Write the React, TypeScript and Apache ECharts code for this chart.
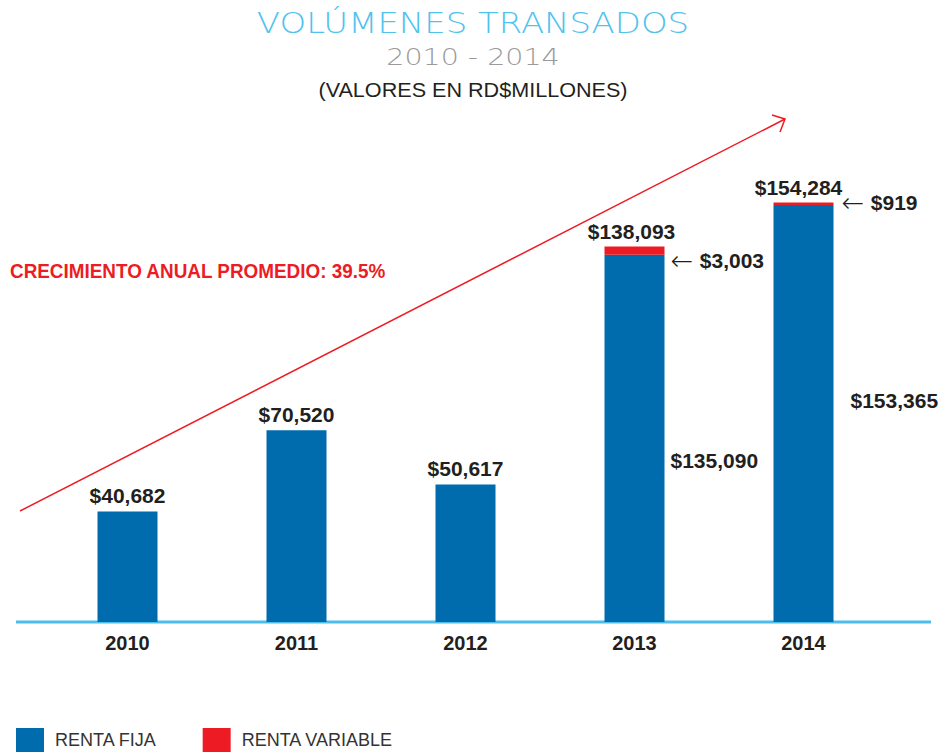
import React, { useEffect, useRef } from "react";
import * as echarts from "echarts";

const years = ["2010", "2011", "2012", "2013", "2014"];
const rentaFija = [40682, 70520, 50617, 135090, 153365];
const rentaVariable: (number | string)[] = ["-", "-", "-", 3003, 919];
const seriesNames = ["RENTA FIJA", "RENTA VARIABLE"];
const titleMain = "VOLÚMENES TRANSADOS";
const titlePeriod = "2010 - 2014";
const titleUnits = "(VALORES EN RD$MILLONES)";
const growthText = "CRECIMIENTO ANUAL PROMEDIO: 39.5%";

const BLUE = "#006BAD";
const RED = "#ED1C24";
const DARK = "#231F20";
const BOLD_FONT = "'Liberation Sans', Arial, sans-serif";

const fmt = (v: number) => "$" + v.toLocaleString("en-US");

export default function App() {
  const ref = useRef<HTMLDivElement>(null);
  useEffect(() => {
    document.body.style.margin = "0";
    if (!ref.current) return;
    const chart = echarts.init(ref.current, null, { renderer: "svg" });
    const totals = rentaFija.map(
      (v, i) => v + (typeof rentaVariable[i] === "number" ? (rentaVariable[i] as number) : 0)
    );
    const fijaSide: Record<number, { offset: number[]; distance: number }> = {
      3: { offset: [0, 22], distance: 6 },
      4: { offset: [0, -13], distance: 17 },
    };
    const varSide: Record<number, { offset: number[]; distance: number }> = {
      3: { offset: [0, 10], distance: 6 },
      4: { offset: [0, -1], distance: 8 },
    };
    const totalOffsets: Record<number, number[]> = { 3: [-3, 0], 4: [-5, 0] };

    chart.setOption({
      animation: false,
      grid: { left: 43, right: 55, top: 100, bottom: 130 },
      xAxis: {
        type: "category",
        data: years,
        axisLine: { show: false },
        axisTick: { show: false },
        axisLabel: { fontSize: 20, fontWeight: "bold", color: DARK, fontFamily: BOLD_FONT, margin: 11 },
      },
      yAxis: { type: "value", min: 0, max: 192000, show: false, splitLine: { show: false } },
      legend: {
        data: seriesNames,
        left: 16,
        top: 728,
        padding: 0,
        itemWidth: 28,
        itemHeight: 24,
        itemGap: 46,
        icon: "rect",
        textStyle: { fontSize: 18, color: "#333", fontFamily: BOLD_FONT, padding: [0, 0, 0, 6] },
      },
      series: [
        {
          name: seriesNames[0],
          type: "bar",
          stack: "total",
          barWidth: 60,
          itemStyle: { color: BLUE },
          data: rentaFija.map((v, i) => {
            const side = fijaSide[i];
            return {
              value: v,
              label: side
                ? {
                    show: true,
                    position: "right",
                    distance: side.distance,
                    offset: side.offset,
                    formatter: fmt(v),
                    fontSize: 21,
                    fontWeight: "bold",
                    color: DARK,
                    fontFamily: BOLD_FONT,
                  }
                : { show: false },
            };
          }),
          z: 3,
        },
        {
          name: seriesNames[1],
          type: "bar",
          stack: "total",
          barWidth: 60,
          itemStyle: { color: RED },
          data: rentaVariable.map((v, i) => ({
            value: v,
            label:
              typeof v === "number"
                ? {
                    show: true,
                    position: "right",
                    distance: varSide[i].distance,
                    offset: varSide[i].offset,
                    formatter: "{a|←}  {b|" + fmt(v) + "}",
                    rich: {
                      a: { fontSize: 27, color: DARK, fontFamily: "'DejaVu Sans', sans-serif", fontWeight: 200 },
                      b: { fontSize: 21, fontWeight: "bold", color: DARK, fontFamily: BOLD_FONT },
                    },
                  }
                : { show: false },
          })),
          z: 3,
        },
        {
          name: "total",
          type: "scatter",
          symbolSize: 0,
          itemStyle: { opacity: 1 },
          silent: true,
          data: totals.map((v, i) => ({
            value: v,
            label: { offset: totalOffsets[i] || [0, 0] },
          })),
          label: {
            show: true,
            position: "top",
            distance: 5,
            formatter: (p: any) => fmt(p.value),
            fontSize: 21,
            fontWeight: "bold",
            color: DARK,
            opacity: 1,
            fontFamily: BOLD_FONT,
          },
          z: 4,
        },
      ],
      graphic: [
        {
          type: "line",
          z: 1,
          shape: { x1: 16, y1: 622, x2: 931, y2: 622 },
          style: { stroke: "#4DBDEB", lineWidth: 3 },
        },
        {
          type: "line",
          shape: { x1: 20, y1: 511, x2: 785, y2: 119 },
          style: { stroke: RED, lineWidth: 1.5 },
        },
        {
          type: "polyline",
          shape: { points: [[772, 115], [785, 119], [780, 132]] },
          style: { stroke: RED, lineWidth: 1.5, fill: null },
        },
        {
          type: "text",
          x: 473,
          y: 23,
          scaleX: 1.17,
          style: {
            text: titleMain,
            fill: "#4FC3EE",
            font: "200 29px 'DejaVu Sans', sans-serif",
            textAlign: "center",
            textVerticalAlign: "middle",
          },
        },
        {
          type: "text",
          x: 473,
          y: 57,
          scaleX: 1.24,
          style: {
            text: titlePeriod,
            fill: "#9A9A9A",
            font: "200 23px 'DejaVu Sans', sans-serif",
            textAlign: "center",
            textVerticalAlign: "middle",
          },
        },
        {
          type: "text",
          x: 473,
          y: 90,
          scaleX: 1.08,
          style: {
            text: titleUnits,
            fill: DARK,
            font: "20px 'Liberation Sans', Arial, sans-serif",
            textAlign: "center",
            textVerticalAlign: "middle",
          },
        },
        {
          type: "text",
          x: 10,
          y: 271,
          scaleX: 0.945,
          style: {
            text: growthText,
            fill: RED,
            font: "bold 20px 'Liberation Sans', Arial, sans-serif",
            textAlign: "left",
            textVerticalAlign: "middle",
          },
        },
      ],
    });
    return () => chart.dispose();
  }, []);
  return <div ref={ref} style={{ width: 943, height: 752 }} />;
}
